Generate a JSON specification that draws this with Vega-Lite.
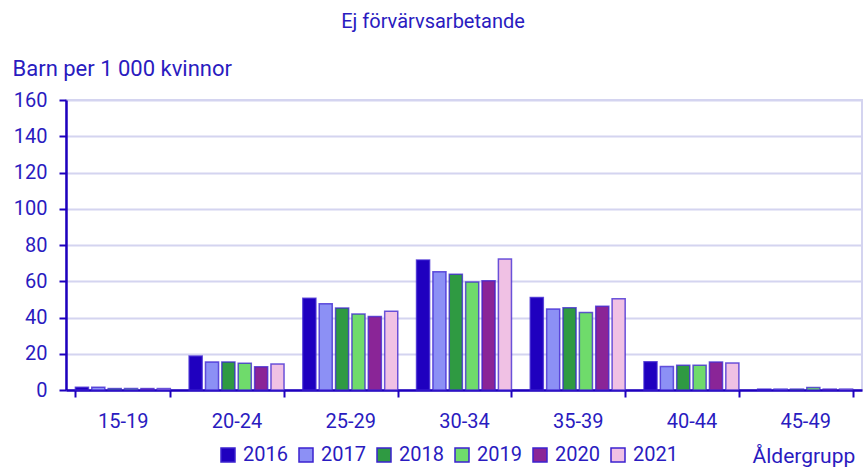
{
  "$schema": "https://vega.github.io/schema/vega-lite/v6.json",
  "width": 796,
  "height": 290,
  "autosize": {"type": "none"},
  "padding": {"left": 66, "top": 100, "right": 2, "bottom": 77},
  "background": "white",
  "title": {
    "text": "Ej förvärvsarbetande",
    "font": "Roboto",
    "fontSize": 20,
    "fontWeight": "normal",
    "color": "#2A1BC0",
    "anchor": "middle",
    "frame": "group",
    "dx": -31,
    "offset": 25
  },
  "config": {
    "font": "Roboto",
    "view": {"stroke": "#d4d4f0", "strokeWidth": 2}
  },
  "data": {
    "values": [
      {"age": "15-19", "year": "2016", "v": 1.5},
      {"age": "15-19", "year": "2017", "v": 1.5},
      {"age": "15-19", "year": "2018", "v": 0.8},
      {"age": "15-19", "year": "2019", "v": 0.8},
      {"age": "15-19", "year": "2020", "v": 0.8},
      {"age": "15-19", "year": "2021", "v": 0.8},
      {"age": "20-24", "year": "2016", "v": 18.7},
      {"age": "20-24", "year": "2017", "v": 15.5},
      {"age": "20-24", "year": "2018", "v": 15.5},
      {"age": "20-24", "year": "2019", "v": 14.8},
      {"age": "20-24", "year": "2020", "v": 12.8},
      {"age": "20-24", "year": "2021", "v": 14.3},
      {"age": "25-29", "year": "2016", "v": 50.6},
      {"age": "25-29", "year": "2017", "v": 47.6},
      {"age": "25-29", "year": "2018", "v": 45.2},
      {"age": "25-29", "year": "2019", "v": 41.9},
      {"age": "25-29", "year": "2020", "v": 40.5},
      {"age": "25-29", "year": "2021", "v": 43.4},
      {"age": "30-34", "year": "2016", "v": 71.7},
      {"age": "30-34", "year": "2017", "v": 65.3},
      {"age": "30-34", "year": "2018", "v": 63.8},
      {"age": "30-34", "year": "2019", "v": 59.6},
      {"age": "30-34", "year": "2020", "v": 60.3},
      {"age": "30-34", "year": "2021", "v": 72.3},
      {"age": "35-39", "year": "2016", "v": 51.1},
      {"age": "35-39", "year": "2017", "v": 44.7},
      {"age": "35-39", "year": "2018", "v": 45.4},
      {"age": "35-39", "year": "2019", "v": 42.7},
      {"age": "35-39", "year": "2020", "v": 46.2},
      {"age": "35-39", "year": "2021", "v": 50.4},
      {"age": "40-44", "year": "2016", "v": 15.6},
      {"age": "40-44", "year": "2017", "v": 12.9},
      {"age": "40-44", "year": "2018", "v": 13.6},
      {"age": "40-44", "year": "2019", "v": 13.6},
      {"age": "40-44", "year": "2020", "v": 15.4},
      {"age": "40-44", "year": "2021", "v": 14.9},
      {"age": "45-49", "year": "2016", "v": 0.5},
      {"age": "45-49", "year": "2017", "v": 0.5},
      {"age": "45-49", "year": "2018", "v": 0.5},
      {"age": "45-49", "year": "2019", "v": 1.4},
      {"age": "45-49", "year": "2020", "v": 0.5},
      {"age": "45-49", "year": "2021", "v": 0.5}
    ]
  },
  "mark": {"type": "bar", "stroke": "#3b22d0", "strokeOpacity": 0.75, "strokeWidth": 1.5},
  "encoding": {
    "x": {
      "field": "age",
      "type": "nominal",
      "sort": null,
      "scale": {"paddingInner": 0.165, "paddingOuter": 0.0825},
      "axis": {
        "title": "Åldergrupp",
        "titleFont": "Roboto",
        "titleFontSize": 21,
        "titleFontWeight": "normal",
        "titleColor": "#2A1BC0",
        "titleAlign": "left",
        "titleAnchor": null,
        "titleX": 686,
        "titleY": 66,
        "titleBaseline": "middle",
        "labelAngle": 0,
        "labelFont": "Roboto",
        "labelFontSize": 20,
        "labelColor": "#2A1BC0",
        "labelPadding": 14,
        "tickBand": "extent",
        "tickColor": "#1E00BE",
        "tickWidth": 2,
        "tickSize": 7,
        "domainColor": "#1E00BE",
        "domainWidth": 2.5,
        "grid": false
      }
    },
    "xOffset": {
      "field": "year",
      "type": "nominal",
      "scale": {"paddingInner": 0.2, "paddingOuter": 0}
    },
    "y": {
      "field": "v",
      "type": "quantitative",
      "scale": {"domain": [0, 160]},
      "axis": {
        "values": [0, 20, 40, 60, 80, 100, 120, 140, 160],
        "title": "Barn per 1 000 kvinnor",
        "titleFont": "Roboto",
        "titleFontSize": 22,
        "titleFontWeight": "normal",
        "titleColor": "#2A1BC0",
        "titleAngle": 0,
        "titleAlign": "left",
        "titleAnchor": null,
        "titleBaseline": "middle",
        "titleX": -54,
        "titleY": -32,
        "labelFont": "Roboto",
        "labelFontSize": 20,
        "labelColor": "#2A1BC0",
        "labelPadding": 12,
        "tickColor": "#1E00BE",
        "tickWidth": 2,
        "tickSize": 7,
        "domainColor": "#1E00BE",
        "domainWidth": 2.5,
        "gridColor": "#d4d4f0",
        "gridWidth": 2
      }
    },
    "color": {
      "field": "year",
      "type": "nominal",
      "scale": {
        "domain": ["2016", "2017", "2018", "2019", "2020", "2021"],
        "range": ["#1F00BF", "#8C90F5", "#2F9A42", "#6FDB6B", "#8A2597", "#F0C1E4"]
      },
      "legend": {
        "title": null,
        "orient": "none",
        "direction": "horizontal",
        "legendX": 152,
        "legendY": 345,
        "symbolType": "square",
        "symbolSize": 196,
        "symbolStrokeColor": "#3b22d0",
        "symbolStrokeWidth": 1.5,
        "labelFont": "Roboto",
        "labelFontSize": 20,
        "labelColor": "#2A1BC0",
        "labelOffset": 5,
        "columnPadding": 8
      }
    }
  }
}
